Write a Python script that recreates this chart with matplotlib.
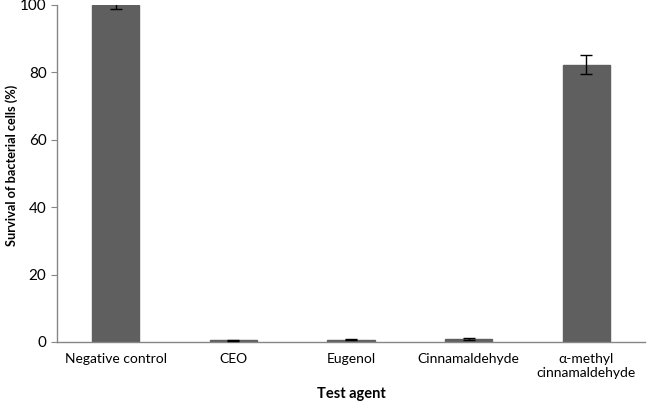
import matplotlib
matplotlib.use("Agg")
import matplotlib.pyplot as plt
import numpy as np

categories = ["Negative control", "CEO", "Eugenol", "Cinnamaldehyde", "\u03b1-methyl\ncinnamaldehyde"]
values = [100.0, 0.5, 0.7, 0.8, 82.3]
errors = [1.2, 0.2, 0.2, 0.35, 2.9]
yticks = [0, 20, 40, 60, 80, 100]

plt.rcParams['font.family'] = ['Lato', 'DejaVu Sans']

fig = plt.figure(figsize=(6.47, 4.11), dpi=100)
ax = fig.add_axes([0.088, 0.168, 0.909, 0.82])
x = np.arange(len(categories))
ax.bar(x, values, width=0.4, color='#5f5f5f', edgecolor='#5f5f5f', zorder=2)
ax.errorbar(x, values, yerr=errors, fmt='none', ecolor='black', elinewidth=1, capsize=4, capthick=1, zorder=3)
ax.set_xlim(-0.5, len(categories) - 0.5)
ax.set_ylim(0, 100)
ax.set_yticks(yticks)
ax.set_xticks(x)
ax.set_xticklabels(categories, fontsize=10)
ax.tick_params(axis='y', labelsize=11, length=4, color='#868686', direction='out')
ax.tick_params(axis='x', length=0, pad=8)
for s in ['top', 'right']:
    ax.spines[s].set_visible(False)
for s in ['left', 'bottom']:
    ax.spines[s].set_color('#868686')
    ax.spines[s].set_linewidth(1)
ax.set_ylabel("Survival of bacterial cells (%)", fontsize=9.2, fontweight='bold')
ax.yaxis.set_label_coords(-0.066, 0.525)
ax.set_xlabel("Test agent", fontsize=10.5, fontweight='bold', labelpad=6)
fig.savefig("out.png", dpi=100)
